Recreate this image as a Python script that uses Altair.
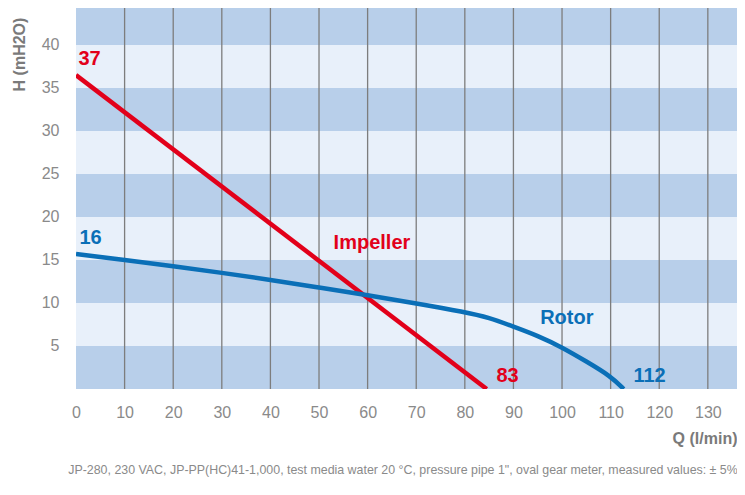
import altair as alt
import pandas as pd

# Data
band_low = [0, 10, 20, 30, 40]
band_high = [5, 15, 25, 35, 45]
grid_q = [10, 20, 30, 40, 50, 60, 70, 80, 90, 100, 110, 120, 130]

imp_q = [0, 84.5]
imp_h = [36.5, 0]

rot_q = [0, 10, 20, 30, 40, 50, 60, 70, 80, 85, 90, 95, 100, 105, 110, 112.7]
rot_h = [15.7, 15.0, 14.3, 13.5, 12.7, 11.8, 10.9, 9.95, 8.95, 8.3, 7.25, 6.2, 4.85, 3.2, 1.5, 0]

lab_text = ["37", "16", "Impeller", "83", "Rotor", "112"]
lab_q = [0.5, 0.7, 53.0, 86.5, 95.5, 114.7]
lab_h = [38.4, 17.6, 17.0, 1.5, 8.2, 1.5]
lab_series = ["Impeller", "Rotor", "Impeller", "Impeller", "Rotor", "Rotor"]

footer = "JP-280, 230 VAC, JP-PP(HC)41-1,000, test media water 20 °C, pressure pipe 1\", oval gear meter, measured values: ± 5%"

RED = "#e2001a"
BLUE = "#0a6fb7"
FONT = "Liberation Sans"

XMAX = 136
YMAX = 44.3
W, H = 661, 381

xs = alt.Scale(domain=[0, XMAX], nice=False, zero=False)
ys = alt.Scale(domain=[0, YMAX], nice=False, zero=False)

bands = pd.DataFrame({"lo": band_low, "hi": band_high})
grid = pd.DataFrame({"q": grid_q})
imp = pd.DataFrame({"q": imp_q, "h": imp_h})
rot = pd.DataFrame({"q": rot_q, "h": rot_h})
labs = pd.DataFrame({"t": lab_text, "q": lab_q, "h": lab_h, "s": lab_series})

xaxis = alt.Axis(
    values=list(range(0, 131, 10)), grid=False, domain=False, ticks=False,
    labelFontSize=16, labelColor="#8a8a8a", labelFont=FONT, labelPadding=15,
    title="Q (l/min)", titleFont=FONT, titleFontSize=16, titleFontWeight="bold",
    titleColor="#7a7a7a", titleAlign="right", titleBaseline="middle",
    titleX=W, titleY=49, labelFlush=False,
)
yaxis = alt.Axis(
    values=[5, 10, 15, 20, 25, 30, 35, 40], grid=False, domain=False, ticks=False,
    labelFontSize=16, labelColor="#8a8a8a", labelFont=FONT, labelPadding=17,
    title="H (mH2O)", titleFont=FONT, titleFontSize=16, titleFontWeight="bold",
    titleColor="#7a7a7a", titleAngle=270, titleAlign="center", titleBaseline="middle",
    titleX=-57, titleY=46,
)

band_layer = alt.Chart(bands).mark_rect(color="#b8cfea", clip=True).encode(
    x=alt.value(0), x2=alt.value(W),
    y=alt.Y("lo:Q", scale=ys, axis=yaxis),
    y2="hi:Q",
)

grid_layer = alt.Chart(grid).mark_rule(color="#7d7d7d", strokeWidth=1.3).encode(
    x=alt.X("q:Q", scale=xs, axis=xaxis),
    y=alt.value(0), y2=alt.value(H),
)

imp_layer = alt.Chart(imp).mark_line(color=RED, strokeWidth=4.5, clip=True).encode(
    x=alt.X("q:Q", scale=xs), y=alt.Y("h:Q", scale=ys)
)
rot_layer = alt.Chart(rot).mark_line(color=BLUE, strokeWidth=4.5, interpolate="basis", clip=True).encode(
    x=alt.X("q:Q", scale=xs), y=alt.Y("h:Q", scale=ys)
)

lab_layer = alt.Chart(labs).mark_text(
    font=FONT, fontSize=20, fontWeight="bold", align="left", baseline="middle"
).encode(
    x=alt.X("q:Q", scale=xs), y=alt.Y("h:Q", scale=ys), text="t:N",
    color=alt.Color("s:N", scale=alt.Scale(domain=["Impeller", "Rotor"], range=[RED, BLUE]), legend=None),
)

foot_layer = alt.Chart(pd.DataFrame({"t": [footer]})).mark_text(
    font=FONT, fontSize=12.4, color="#8a8a8a", align="center", baseline="middle"
).encode(text="t:N", x=alt.value(327), y=alt.value(462))

chart = alt.layer(
    band_layer, grid_layer, imp_layer, rot_layer, lab_layer, foot_layer
).properties(
    width=W, height=H,
    autosize=alt.AutoSizeParams(type="none"),
    padding={"left": 68, "top": 0, "right": 0, "bottom": 98},
).configure(
    background="white",
    view=alt.ViewConfig(fill="#e8f0fa", stroke=None),
)

chart.save("out.html", embed_options={"renderer": "svg", "actions": False})
